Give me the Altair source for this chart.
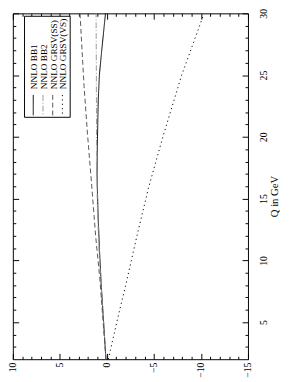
import altair as alt
import pandas as pd

# ---- data ----
SERIES = ["NNLO BB1", "NNLO BB2", "NNLO GRSV(SS)", "NNLO GRSV(VS)"]

BB1_Q = [2, 5, 8, 11, 14, 17, 20, 23, 25, 27, 30]
BB1_V = [0.1, 0.35, 0.6, 0.8, 0.95, 1.05, 1.0, 0.92, 0.8, 0.55, 0.15]

BB2_Q = [2, 5, 8, 11, 14, 17, 20, 25, 30]
BB2_V = [0.1, 0.35, 0.62, 0.85, 1.0, 1.08, 1.1, 1.12, 1.15]

SS_Q = [2, 5, 8.5, 12, 16.3, 20.2, 24.1, 30]
SS_V = [0.1, 0.4, 0.75, 1.2, 1.64, 2.06, 2.43, 2.86]

VS_Q = [2, 5, 8, 12, 15.8, 20, 25, 29.8]
VS_V = [-0.15, -1.05, -2.0, -3.2, -4.4, -5.95, -7.95, -10.24]

X_MAJOR = [10, 5, 0, -5, -10, -15]
X_MINOR = [v for v in range(-14, 10) if v % 5 != 0]
Y_MAJOR = [5, 10, 15, 20, 25, 30]
Y_MINOR = [q for q in range(3, 30) if q % 5 != 0]

# ---- styles ----
COLORS = ["#000000", "#9a9a9a", "#555555", "#000000"]
DASHES = [[1, 0], [6, 2, 1, 2], [5, 3], [1.2, 3.3]]
FONT = "Liberation Serif"

rows = []
for name, qs, vs in zip(SERIES, [BB1_Q, BB2_Q, SS_Q, VS_Q], [BB1_V, BB2_V, SS_V, VS_V]):
    for i, (q, v) in enumerate(zip(qs, vs)):
        rows.append({"series": name, "Q": q, "value": v, "order": i})
df = pd.DataFrame(rows)

xscale = alt.Scale(domain=[-15, 10], reverse=True, nice=False, zero=False)
yscale = alt.Scale(domain=[2, 30], nice=False, zero=False)

lines = alt.Chart(df).mark_line(strokeWidth=1).encode(
    x=alt.X("value:Q", scale=xscale, axis=alt.Axis(
        orient="bottom", values=X_MAJOR, ticks=False, domain=False, grid=False,
        labelAngle=270, labelAlign="right", labelBaseline="middle", labelPadding=3,
        labelFont=FONT, labelFontSize=10, labelColor="black", labelFlush=False,
        labelOverlap=False, title=None)),
    y=alt.Y("Q:Q", scale=yscale, axis=alt.Axis(
        orient="right", values=Y_MAJOR, ticks=False, domain=False, grid=False,
        labelAngle=270, labelAlign="center", labelBaseline="top", labelPadding=11,
        labelFont=FONT, labelFontSize=10, labelColor="black", labelFlush=False,
        labelOverlap=False, title="Q in GeV", titleAngle=270, titleFont=FONT,
        titleFontSize=11, titleFontWeight="normal", titleColor="black",
        titleAlign="center", titleBaseline="middle", titleX=27, titleY=188)),
    color=alt.Color("series:N", scale=alt.Scale(domain=SERIES, range=COLORS), legend=None),
    strokeDash=alt.StrokeDash("series:N", scale=alt.Scale(domain=SERIES, range=DASHES), legend=None),
    order=alt.Order("order:Q"),
)


def tick_layer(xorient, yorient, xvals, yvals, size):
    common = dict(tickSize=size, offset=-size, labels=False, domain=False, grid=False,
                  title=None, ticks=True, tickColor="black", tickWidth=1)
    return alt.Chart(df).mark_point(opacity=0).encode(
        x=alt.X("value:Q", scale=xscale, axis=alt.Axis(orient=xorient, values=xvals, **common)),
        y=alt.Y("Q:Q", scale=yscale, axis=alt.Axis(orient=yorient, values=yvals, **common)),
    )


ticks = [
    tick_layer("top", "left", X_MAJOR, Y_MAJOR, 6),
    tick_layer("bottom", "right", X_MAJOR, Y_MAJOR, 6),
    tick_layer("top", "left", X_MINOR, Y_MINOR, 3),
    tick_layer("bottom", "right", X_MINOR, Y_MINOR, 3),
]

one = pd.DataFrame({"k": [0]})
legend_layers = [
    alt.Chart(one).mark_rect(fill="white", stroke="black", strokeWidth=1).encode(
        x=alt.value(12), x2=alt.value(59), y=alt.value(3), y2=alt.value(107))
]
for i, name in enumerate(SERIES):
    cx = 21 + i * 10
    legend_layers.append(
        alt.Chart(one).mark_rule(color=COLORS[i], strokeDash=DASHES[i], strokeWidth=1).encode(
            x=alt.value(cx), y=alt.value(84), y2=alt.value(105)))
    legend_layers.append(
        alt.Chart(one).mark_text(angle=270, align="left", baseline="middle", font=FONT,
                                 fontSize=9.5, color="black").encode(
            x=alt.value(cx + 1), y=alt.value(78), text=alt.value(name)))

chart = alt.layer(lines, *ticks, *legend_layers).properties(
    width=242, height=356,
    padding={"left": 5, "top": 0, "right": 34, "bottom": 20},
    autosize=alt.AutoSizeParams(type="none"),
    background="white",
).configure_view(stroke="black", strokeWidth=1)

chart.save("out.html", embed_options={"renderer": "svg", "actions": False})
